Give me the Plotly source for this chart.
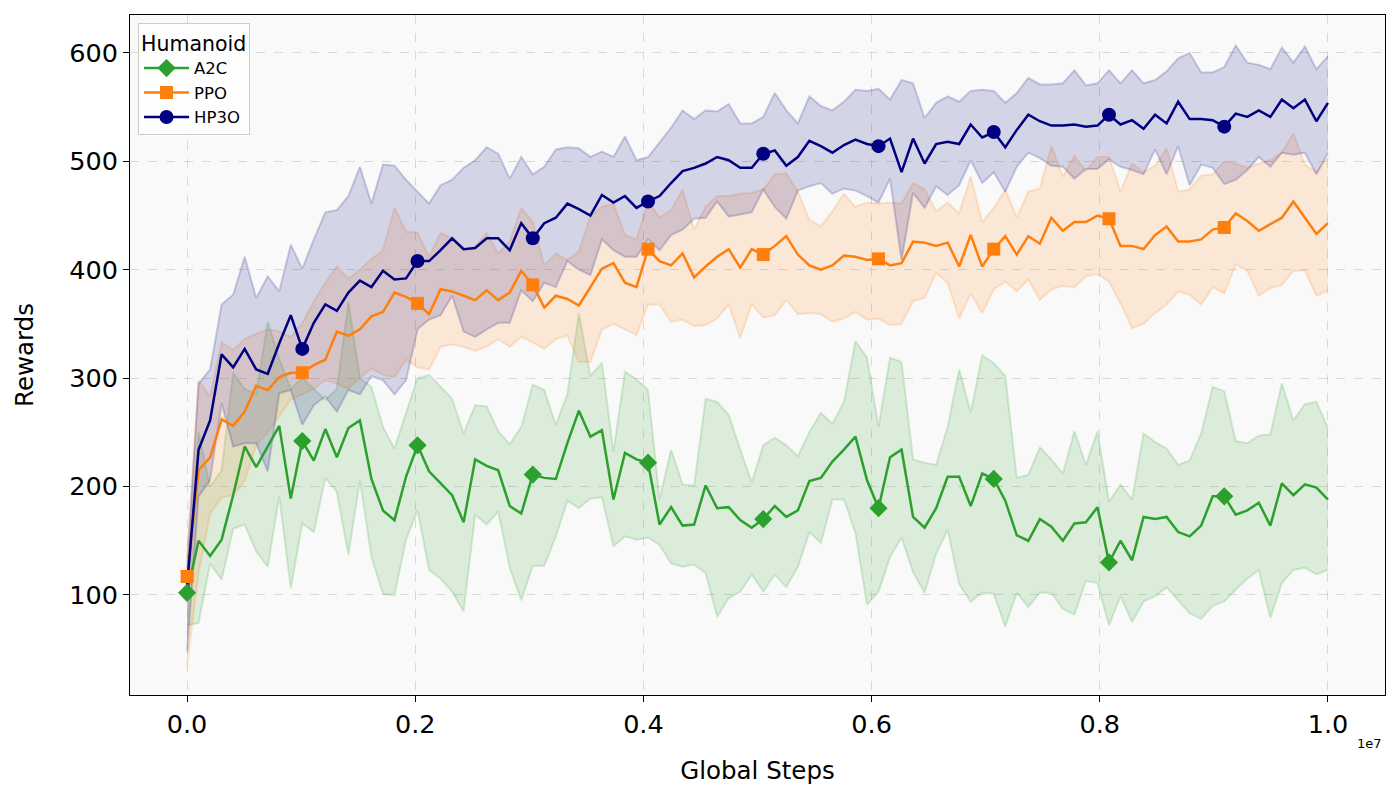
import plotly.graph_objects as go

# ---------------- data ----------------
n_points = 100
total_steps = 1e7
global_steps = [i * total_steps / (n_points - 1) for i in range(n_points)]

a2c_mean = [102, 150, 136, 151, 192, 237, 218, 237, 256, 189,
            242, 224, 253, 227, 254, 261, 207, 178, 169, 209,
            238, 214, 203, 192, 167, 225, 219, 215, 182, 175,
            211, 208, 207, 240, 270, 246, 252, 188, 231, 225,
            222, 165, 181, 164, 165, 201, 180, 181, 169, 162,
            170, 182, 172, 178, 205, 208, 223, 234, 246, 206,
            180, 227, 234, 172, 162, 180, 209, 209, 182, 212,
            207, 187, 155, 150, 170, 163, 150, 166, 167, 181,
            130, 150, 132, 172, 170, 172, 158, 154, 164, 191,
            191, 174, 178, 185, 164, 203, 192, 202, 199, 188]
a2c_upper = [112, 250, 200, 215, 305, 290, 285, 352, 318, 290,
             300, 290, 280, 290, 370, 300, 292, 255, 235, 268,
             300, 303, 292, 281, 249, 275, 274, 251, 239, 255,
             294, 289, 257, 285, 360, 302, 314, 232, 306, 299,
             289, 188, 234, 202, 201, 281, 278, 266, 234, 204,
             238, 245, 238, 228, 250, 268, 258, 278, 334, 319,
             255, 319, 315, 225, 222, 220, 255, 308, 268, 321,
             314, 302, 208, 211, 236, 225, 212, 251, 220, 251,
             186, 202, 188, 249, 241, 235, 220, 224, 249, 292,
             288, 242, 240, 247, 248, 295, 261, 276, 278, 254]
a2c_lower = [72, 74, 129, 114, 161, 165, 140, 126, 191, 106,
             166, 158, 208, 195, 137, 206, 135, 101, 100, 151,
             178, 123, 115, 103, 85, 174, 165, 177, 125, 95,
             127, 127, 154, 187, 180, 189, 190, 145, 154, 151,
             153, 146, 129, 126, 128, 120, 80, 97, 103, 119,
             103, 119, 107, 126, 158, 148, 188, 188, 157, 91,
             103, 135, 153, 121, 102, 138, 160, 110, 94, 102,
             101, 71, 102, 89, 102, 102, 87, 82, 113, 111,
             72, 99, 75, 94, 99, 107, 95, 83, 78, 90,
             94, 105, 115, 123, 79, 111, 123, 125, 119, 123]

ppo_mean = [117, 215, 227, 262, 256, 269, 293, 289, 301, 305,
            305, 312, 317, 343, 339, 345, 357, 361, 379, 375,
            369, 359, 382, 380, 376, 372, 381, 372, 379, 399,
            386, 365, 376, 373, 367, 384, 401, 406, 388, 384,
            419, 408, 404, 415, 393, 403, 412, 419, 402, 419,
            414, 422, 431, 414, 404, 400, 404, 413, 412, 409,
            410, 404, 406, 426, 425, 422, 425, 403, 432, 403,
            419, 431, 414, 431, 424, 448, 436, 444, 444, 450,
            447, 422, 422, 419, 432, 440, 426, 426, 428, 437,
            439, 452, 445, 436, 442, 448, 463, 448, 433, 443]
ppo_upper = [135, 298, 283, 333, 326, 336, 341, 345, 343, 338,
             351, 371, 388, 403, 392, 400, 410, 418, 457, 435,
             434, 412, 434, 429, 418, 421, 434, 415, 426, 457,
             444, 404, 415, 409, 417, 449, 458, 461, 432, 428,
             463, 448, 455, 474, 437, 458, 468, 468, 470, 471,
             474, 488, 489, 472, 446, 440, 454, 470, 458, 462,
             461, 462, 461, 480, 474, 454, 462, 452, 486, 444,
             457, 474, 448, 472, 475, 514, 486, 505, 491, 504,
             504, 472, 498, 490, 496, 512, 472, 474, 487, 488,
             500, 498, 494, 498, 501, 508, 526, 497, 490, 504]
ppo_lower = [35, 120, 175, 190, 192, 205, 238, 250, 265, 280,
             285, 290, 298, 295, 290, 300, 309, 303, 301, 317,
             310, 308, 329, 331, 329, 325, 329, 336, 329, 338,
             333, 327, 336, 339, 315, 315, 345, 350, 345, 340,
             368, 368, 352, 354, 348, 349, 355, 368, 337, 368,
             356, 358, 372, 359, 360, 359, 352, 355, 361, 354,
             355, 349, 350, 371, 374, 397, 388, 355, 378, 360,
             382, 389, 380, 391, 372, 382, 385, 384, 394, 396,
             389, 369, 346, 350, 360, 368, 380, 377, 368, 384,
             378, 405, 399, 376, 383, 386, 399, 399, 376, 381]

hp3o_mean = [108, 234, 261, 322, 310, 327, 308, 304, 332, 358,
             327, 351, 368, 362, 379, 390, 384, 399, 391, 392,
             408, 408, 418, 429, 419, 420, 429, 429, 418, 443,
             429, 443, 448, 461, 456, 450, 469, 462, 468, 457,
             463, 468, 480, 491, 494, 498, 504, 501, 494, 494,
             507, 510, 496, 504, 519, 514, 508, 515, 520, 516,
             514, 521, 490, 521, 498, 516, 518, 516, 534, 522,
             527, 513, 529, 543, 537, 533, 533, 534, 532, 533,
             543, 534, 538, 530, 543, 535, 555, 539, 539, 538,
             532, 544, 541, 547, 541, 557, 549, 557, 537, 554]
hp3o_upper = [125, 295, 308, 368, 377, 412, 374, 394, 380, 423,
              401, 428, 453, 455, 468, 495, 461, 497, 496, 483,
              472, 461, 478, 483, 494, 501, 513, 507, 484, 504,
              488, 495, 511, 513, 512, 504, 509, 504, 523, 501,
              504, 517, 531, 547, 539, 547, 546, 553, 535, 535,
              541, 563, 547, 535, 560, 551, 547, 555, 566, 565,
              567, 557, 575, 572, 540, 554, 560, 555, 565, 566,
              565, 554, 563, 577, 571, 571, 572, 584, 570, 572,
              584, 572, 584, 572, 575, 583, 595, 600, 582, 582,
              587, 607, 591, 589, 585, 605, 591, 606, 585, 597]
hp3o_lower = [48, 191, 206, 277, 237, 240, 240, 214, 286, 289,
              257, 275, 283, 269, 289, 285, 302, 298, 285, 298,
              345, 354, 358, 376, 343, 338, 345, 351, 351, 381,
              371, 388, 384, 408, 400, 395, 428, 418, 412, 412,
              428, 418, 432, 437, 447, 448, 463, 449, 451, 453,
              474, 458, 447, 473, 477, 480, 470, 475, 473, 468,
              462, 484, 409, 471, 457, 477, 469, 478, 501, 480,
              490, 472, 495, 508, 503, 496, 495, 484, 493, 493,
              502, 495, 492, 488, 511, 488, 514, 478, 497, 494,
              479, 483, 492, 504, 495, 508, 506, 508, 488, 508]

series_names = ["A2C", "PPO", "HP3O"]
legend_title = "Humanoid"
x_label = "Global Steps"
y_label = "Rewards"
x_tick_values = [0, 2e6, 4e6, 6e6, 8e6, 1e7]
x_tick_labels = ["0.0", "0.2", "0.4", "0.6", "0.8", "1.0"]
y_tick_values = [100, 200, 300, 400, 500, 600]
marker_start = {"A2C": 0, "PPO": 0, "HP3O": 10}
marker_every = 10

# ---------------- style ----------------
styles = {
    "A2C": dict(rgb=(44, 160, 44), symbol="diamond", size=14),
    "PPO": dict(rgb=(255, 127, 14), symbol="square", size=13),
    "HP3O": dict(rgb=(0, 0, 128), symbol="circle", size=14),
}
data = {
    "A2C": (a2c_mean, a2c_upper, a2c_lower),
    "PPO": (ppo_mean, ppo_upper, ppo_lower),
    "HP3O": (hp3o_mean, hp3o_upper, hp3o_lower),
}
FONT = "DejaVu Sans"

fig = go.Figure()

# bands
for name in series_names:
    mean, up, lo = data[name]
    r, g, b = styles[name]["rgb"]
    edge = f"rgba({r},{g},{b},0.18)"
    fill = f"rgba({r},{g},{b},0.15)"
    fig.add_trace(go.Scatter(x=global_steps, y=up, mode="lines",
                             line=dict(color=edge, width=2),
                             showlegend=False, hoverinfo="skip"))
    fig.add_trace(go.Scatter(x=global_steps, y=lo, mode="lines",
                             line=dict(color=edge, width=2),
                             fill="tonexty", fillcolor=fill,
                             showlegend=False, hoverinfo="skip"))

# mean lines
for name in series_names:
    mean, up, lo = data[name]
    r, g, b = styles[name]["rgb"]
    fig.add_trace(go.Scatter(x=global_steps, y=mean, mode="lines",
                             line=dict(color=f"rgb({r},{g},{b})", width=2.5),
                             showlegend=False))

# markers
for name in series_names:
    mean, up, lo = data[name]
    r, g, b = styles[name]["rgb"]
    idx = list(range(marker_start[name], n_points, marker_every))
    fig.add_trace(go.Scatter(x=[global_steps[i] for i in idx],
                             y=[mean[i] for i in idx], mode="markers",
                             marker=dict(symbol=styles[name]["symbol"],
                                         size=styles[name]["size"],
                                         color=f"rgb({r},{g},{b})",
                                         line=dict(width=0)),
                             showlegend=False))

# legend entries
for name in series_names:
    r, g, b = styles[name]["rgb"]
    fig.add_trace(go.Scatter(x=[None], y=[None], mode="lines+markers", name=name,
                             line=dict(color=f"rgb({r},{g},{b})", width=2.5),
                             marker=dict(symbol=styles[name]["symbol"],
                                         size=styles[name]["size"],
                                         color=f"rgb({r},{g},{b})")))

axis_common = dict(showline=True, linecolor="black", linewidth=1, mirror=True,
                   ticks="outside", ticklen=6, tickwidth=1, tickcolor="black",
                   showgrid=True, gridcolor="#d9d9d9", griddash="dash", gridwidth=1,
                   zeroline=False, tickfont=dict(family=FONT, size=25.5, color="black"))

# page body has an 8px margin, so the figure is sized/offset to land the plot area
fig.update_layout(
    width=1384, height=784,
    margin=dict(l=122, r=7, t=7, b=97),
    paper_bgcolor="white", plot_bgcolor="#f9f9f9",
    font=dict(family=FONT, color="black"),
    xaxis=dict(range=[-0.05e7, 1.05e7], tickvals=x_tick_values, ticktext=x_tick_labels,
               title=dict(text=x_label, font=dict(family=FONT, size=24.5), standoff=24),
               **axis_common),
    yaxis=dict(range=[7.7, 635], tickvals=y_tick_values,
               title=dict(text=y_label, font=dict(family=FONT, size=24.5), standoff=28),
               **axis_common),
    legend=dict(x=0.0064, y=0.988, xanchor="left", yanchor="top",
                traceorder="normal", itemwidth=45,
                bgcolor="rgba(255,255,255,0.85)", bordercolor="#cccccc", borderwidth=1,
                font=dict(family=FONT, size=16.5),
                title=dict(text=legend_title, font=dict(family=FONT, size=20.5)),
                tracegroupgap=0),
    annotations=[dict(text="1e7", xref="paper", yref="paper", x=0.988, y=-0.0706,
                      xanchor="center", yanchor="middle", showarrow=False,
                      font=dict(family=FONT, size=13))],
)

fig.write_html("out.html")
